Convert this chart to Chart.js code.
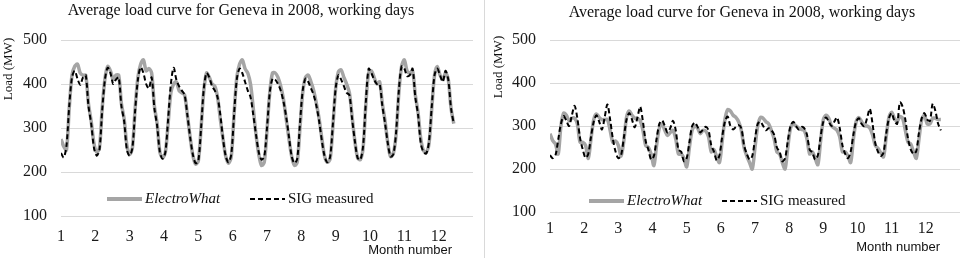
<!DOCTYPE html>
<html>
<head>
<meta charset="utf-8">
<script src="https://cdn.jsdelivr.net/npm/chart.js@4/dist/chart.umd.min.js"></script>
<style>
  body { margin: 0; background: #fff; }
  #wrap { position: relative; width: 965px; height: 258px; overflow: hidden; }
  #left { position: absolute; left: 0; top: 0; width: 482px; height: 258px; }
  #right { position: absolute; left: 484px; top: 0; width: 480px; height: 258px; border-left: 1px solid #d9d9d9; }
</style>
</head>
<body>
<div id="wrap">
  <div id="left"><canvas id="c1" width="482" height="258"></canvas></div>
  <div id="right"><canvas id="c2" width="480" height="258"></canvas></div>
</div>
<script>
const title = 'Average load curve for Geneva in 2008, working days';
const months = ['1', '2', '3', '4', '5', '6', '7', '8', '9', '10', '11', '12'];
const hours = [0, 2, 4, 6, 8, 10, 12, 14, 16, 18, 20, 22];
const yTicks = [100, 200, 300, 400, 500];

// left panel, one row per month
const leftElectro = [
  [275, 258, 250, 345, 420, 440, 445, 425, 420, 420, 355, 315],
  [265, 245, 255, 345, 412, 440, 430, 410, 420, 420, 355, 320],
  [260, 240, 255, 345, 415, 445, 455, 430, 435, 425, 350, 310],
  [245, 232, 245, 310, 380, 400, 405, 385, 380, 375, 330, 280],
  [238, 218, 225, 300, 385, 425, 415, 400, 395, 370, 320, 275],
  [235, 220, 235, 330, 415, 445, 455, 435, 425, 400, 345, 285],
  [240, 215, 222, 295, 380, 425, 425, 415, 395, 365, 320, 275],
  [235, 215, 222, 300, 380, 415, 420, 405, 385, 355, 320, 275],
  [235, 222, 230, 305, 390, 428, 432, 415, 400, 380, 325, 270],
  [232, 228, 255, 355, 425, 430, 415, 400, 405, 355, 315, 265],
  [235, 242, 285, 380, 440, 455, 430, 425, 430, 375, 335, 275],
  [248, 245, 265, 345, 420, 440, 420, 410, 425, 410, 345, 310]
];
const leftSig = [
  [243, 233, 260, 350, 415, 430, 412, 398, 415, 420, 350, 310],
  [255, 237, 250, 340, 410, 437, 425, 400, 410, 415, 350, 315],
  [250, 237, 255, 340, 410, 438, 425, 400, 390, 415, 345, 305],
  [245, 230, 245, 320, 400, 437, 410, 395, 385, 375, 330, 280],
  [240, 220, 225, 300, 390, 425, 415, 395, 385, 370, 330, 275],
  [235, 222, 240, 330, 410, 435, 425, 405, 385, 370, 330, 285],
  [245, 228, 235, 300, 380, 412, 410, 400, 385, 360, 325, 280],
  [235, 220, 230, 310, 385, 412, 405, 390, 375, 350, 315, 270],
  [235, 222, 235, 310, 390, 420, 410, 395, 380, 375, 320, 270],
  [232, 228, 260, 360, 435, 425, 410, 400, 400, 350, 310, 265],
  [235, 240, 290, 385, 440, 435, 418, 420, 435, 370, 330, 265],
  [245, 242, 270, 350, 420, 435, 420, 405, 430, 410, 345, 310]
];

// right panel
const rightElectro = [
  [282, 266, 258, 235, 300, 330, 325, 312, 318, 318, 305, 262],
  [262, 255, 225, 270, 315, 328, 320, 315, 315, 315, 290, 262],
  [265, 255, 230, 265, 320, 335, 325, 318, 318, 312, 290, 255],
  [250, 235, 208, 255, 295, 305, 290, 278, 285, 290, 270, 235],
  [235, 225, 205, 250, 290, 300, 295, 282, 290, 288, 275, 240],
  [245, 228, 215, 265, 315, 338, 335, 325, 320, 310, 290, 250],
  [230, 215, 200, 250, 300, 320, 318, 310, 305, 290, 270, 240],
  [235, 215, 200, 250, 295, 305, 300, 295, 292, 290, 270, 235],
  [240, 225, 210, 265, 315, 325, 318, 300, 295, 290, 275, 240],
  [240, 230, 215, 270, 310, 320, 310, 300, 300, 295, 280, 255],
  [248, 238, 228, 275, 320, 332, 318, 310, 322, 318, 290, 262],
  [258, 240, 225, 270, 315, 325, 305, 305, 318, 318, 315, 315]
];
const rightSig = [
  [232, 225, 232, 268, 305, 323, 312, 300, 325, 347, 318, 272],
  [245, 226, 235, 275, 310, 325, 310, 292, 320, 350, 315, 270],
  [240, 225, 232, 272, 315, 330, 315, 297, 320, 345, 310, 265],
  [245, 222, 230, 270, 305, 313, 300, 285, 295, 312, 290, 245],
  [240, 218, 225, 262, 300, 308, 298, 285, 292, 298, 290, 255],
  [240, 220, 232, 275, 310, 322, 300, 292, 298, 302, 295, 255],
  [235, 222, 230, 270, 305, 310, 300, 290, 295, 290, 280, 250],
  [240, 218, 225, 265, 300, 310, 300, 292, 298, 295, 280, 245],
  [238, 222, 232, 275, 310, 320, 310, 300, 310, 320, 295, 255],
  [235, 225, 240, 280, 310, 318, 305, 300, 318, 340, 305, 260],
  [240, 230, 238, 282, 318, 330, 312, 305, 355, 345, 315, 270],
  [245, 235, 242, 285, 318, 330, 315, 312, 352, 335, 305, 290]
];

const hoursPerMonth = 24;
const labelStep = 25; // excel put a month label every 25 categories

function toPoints(rows) {
  const pts = [];
  rows.forEach((row, m) => {
    row.forEach((v, k) => pts.push({ x: m * hoursPerMonth + hours[k], y: v }));
  });
  return pts;
}

const serif = '"Liberation Serif", "Times New Roman", serif';

const decor = {
  id: 'decor',
  afterDraw(chart, args, o) {
    const ctx = chart.ctx;
    ctx.save();
    ctx.fillStyle = '#111';
    ctx.textBaseline = 'middle';

    ctx.font = '16px ' + serif;
    ctx.textAlign = 'center';
    ctx.fillText(title, o.titleX, o.titleY);

    ctx.save();
    ctx.translate(o.yTitleX, o.yTitleY);
    ctx.rotate(-Math.PI / 2);
    ctx.font = '13px ' + serif;
    ctx.fillText('Load (MW)', 0, 0);
    ctx.restore();

    ctx.font = '13px "Liberation Sans", Arial, sans-serif';
    ctx.textAlign = 'right';
    ctx.fillText('Month number', o.monthX, o.monthY);

    // legend
    const ly = o.legendY;
    ctx.lineCap = 'butt';
    ctx.strokeStyle = '#a5a5a5';
    ctx.lineWidth = 4;
    ctx.beginPath();
    ctx.moveTo(o.legendX, ly);
    ctx.lineTo(o.legendX + 35, ly);
    ctx.stroke();
    ctx.textAlign = 'left';
    ctx.font = 'italic 15px ' + serif;
    ctx.fillText('ElectroWhat', o.legendX + 38, ly);

    ctx.strokeStyle = '#000';
    ctx.lineWidth = 2;
    ctx.setLineDash([5, 3]);
    ctx.beginPath();
    ctx.moveTo(o.legendX2, ly);
    ctx.lineTo(o.legendX2 + 35, ly);
    ctx.stroke();
    ctx.setLineDash([]);
    ctx.font = '15px ' + serif;
    ctx.fillText('SIG measured', o.legendX2 + 38, ly);
    ctx.restore();
  }
};

function makeChart(id, electro, sig, lay) {
  return new Chart(document.getElementById(id), {
    type: 'line',
    data: {
      datasets: [
        {
          label: 'SIG measured',
          data: toPoints(sig),
          borderColor: '#000',
          borderWidth: 2,
          borderDash: [5, 3],
          pointRadius: 0,
          tension: 0.3,
          order: 0
        },
        {
          label: 'ElectroWhat',
          data: toPoints(electro),
          borderColor: '#a5a5a5',
          borderWidth: 3.5,
          pointRadius: 0,
          tension: 0.3,
          order: 1
        }
      ]
    },
    options: {
      responsive: false,
      animation: false,
      layout: { padding: { top: 40, right: lay.padRight, left: 0, bottom: 0 } },
      plugins: {
        legend: { display: false },
        tooltip: { enabled: false },
        decor: lay.decor
      },
      scales: {
        x: {
          type: 'linear',
          min: 0,
          max: 300,
          afterBuildTicks: (s) => { s.ticks = months.map((m, i) => ({ value: i * labelStep })); },
          afterFit: (s) => { s.height = lay.xHeight; },
          ticks: {
            autoSkip: false,
            maxRotation: 0,
            padding: lay.xPad,
            color: '#1a1a1a',
            font: { family: serif, size: 16 },
            callback: (v, i) => months[i]
          },
          grid: { display: false, drawTicks: false },
          border: { display: false }
        },
        y: {
          min: 100,
          max: 500,
          afterBuildTicks: (s) => { s.ticks = yTicks.map(v => ({ value: v })); },
          afterFit: (s) => { s.width = lay.yWidth; },
          ticks: {
            padding: 14,
            color: '#1a1a1a',
            font: { family: serif, size: 16 }
          },
          grid: { color: '#d9d9d9', lineWidth: 1, drawTicks: false },
          border: { display: false }
        }
      }
    },
    plugins: [decor]
  });
}

makeChart('c1', leftElectro, leftSig, {
  padRight: 9, xHeight: 42, yWidth: 61, xPad: 11,
  decor: { titleX: 241, titleY: 11, yTitleX: 9, yTitleY: 69, monthX: 452, monthY: 250, legendX: 107, legendX2: 250, legendY: 199 }
});
makeChart('c2', rightElectro, rightSig, {
  padRight: 5, xHeight: 46, yWidth: 65, xPad: 7,
  decor: { titleX: 257, titleY: 13, yTitleX: 14, yTitleY: 67, monthX: 455, monthY: 247, legendX: 104, legendX2: 237, legendY: 201 }
});
</script>
</body>
</html>
